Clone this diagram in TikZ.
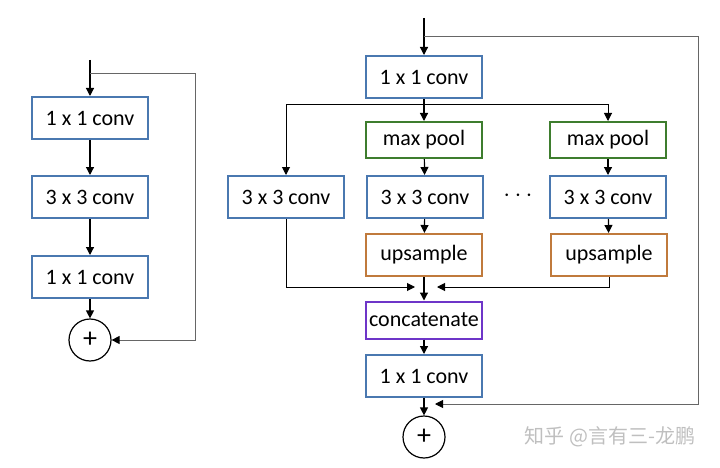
\documentclass[tikz,border=0pt]{standalone}
\usepackage{fontspec}
\setmainfont{Carlito}
\newfontfamily\cjk{Noto Sans CJK SC}
\usetikzlibrary{arrows.meta,positioning}
\definecolor{convblue}{HTML}{4A78B0}
\definecolor{poolgreen}{HTML}{3E7D2E}
\definecolor{uporange}{HTML}{C07A3C}
\definecolor{catpurple}{HTML}{6E35C8}

\begin{document}
\begin{tikzpicture}[x=1pt, y=-1pt, >={Triangle[length=8pt,width=8pt]},
  every node/.style={font=\fontsize{22}{26}\selectfont},
  block/.style={draw, line width=2pt, fill=white, minimum width=116pt, minimum height=42pt, inner sep=0pt},
  convbox/.style={block, draw=convblue},
  poolbox/.style={block, draw=poolgreen, minimum height=36pt},
  upbox/.style={block, draw=uporange},
  catbox/.style={block, draw=catpurple, minimum height=37pt},
  sumnode/.style={circle, draw, line width=1.2pt, minimum size=42pt, inner sep=0pt, font=\fontsize{28}{28}\selectfont},
  flowarrow/.style={->, line width=1.2pt},
  branch/.style={->, line width=1pt},
  skiparrow/.style={-{Triangle[length=8pt,width=8pt,black]}, line width=0.9pt, draw=black!60}]
  \useasboundingbox (0,0) rectangle (720,468);

  % Left: residual bottleneck
  \coordinate (lin) at (90,60);
  \coordinate (lsplit) at (90,73);
  \node[convbox] (l1) at (90,118) {1 x 1 conv};
  \node[convbox] (l2) at (90,197) {3 x 3 conv};
  \node[convbox] (l3) at (90,277) {1 x 1 conv};
  \node[sumnode] (lsum) at (90,340) {+};
  \draw[flowarrow] (lin) -- (l1);
  \draw[flowarrow] (l1) -- (l2);
  \draw[flowarrow] (l2) -- (l3);
  \draw[flowarrow] (l3) -- (lsum);
  \draw[skiparrow] (lsplit) -- ++(105,0) |- (lsum);

  % Right: pyramid residual block
  \coordinate (rin) at (424,18);
  \coordinate (rsplit) at (424,36);
  \coordinate (rfork) at (424,105);
  \coordinate (mleft) at (415,287);
  \coordinate (mright) at (437,287);
  \coordinate (rskipend) at (435,404);
  \node[convbox] (r1) at (424,77) {1 x 1 conv};
  \node[convbox] (rl) at (286,197) {3 x 3 conv};
  \node[poolbox] (rp1) at (424,140) {max pool};
  \node[convbox] (rc1) at (425,197) {3 x 3 conv};
  \node[upbox] (ru1) at (424,255) {upsample};
  \node[font=\fontsize{24}{24}\selectfont] (dots) at (518,196) {$\cdots$};
  \node[poolbox] (rp2) at (608,140) {max pool};
  \node[convbox] (rc2) at (608,197) {3 x 3 conv};
  \node[upbox] (ru2) at (609,255) {upsample};
  \node[catbox] (cat) at (424,320) {concatenate};
  \node[convbox] (r2) at (424,376) {1 x 1 conv};
  \node[sumnode] (rsum) at (424,437) {+};

  \draw[flowarrow] (rin) -- (r1);
  \draw[flowarrow] (r1) -- (rp1);
  \draw[branch] (rfork) -| (rl);
  \draw[branch] (rfork) -| (rp2);
  \draw[flowarrow] (rp1) -- (rc1);
  \draw[flowarrow] (rc1) -- (ru1);
  \draw[flowarrow] (rp2) -- (rc2);
  \draw[flowarrow] (rc2) -- (ru2);
  \draw[branch] (rl) |- (mleft);
  \draw[branch] (ru2) |- (mright);
  \draw[flowarrow] (ru1) -- (cat);
  \draw[flowarrow] (cat) -- (r2);
  \draw[flowarrow] (r2) -- (rsum);
  \draw[skiparrow] (rsplit) -- ++(274,0) |- (rskipend);

  \node[text=black!25, font=\cjk\fontsize{20}{20}\selectfont] (mark) at (610,437) {知乎 @言有三-龙鹏};
\end{tikzpicture}
\end{document}
